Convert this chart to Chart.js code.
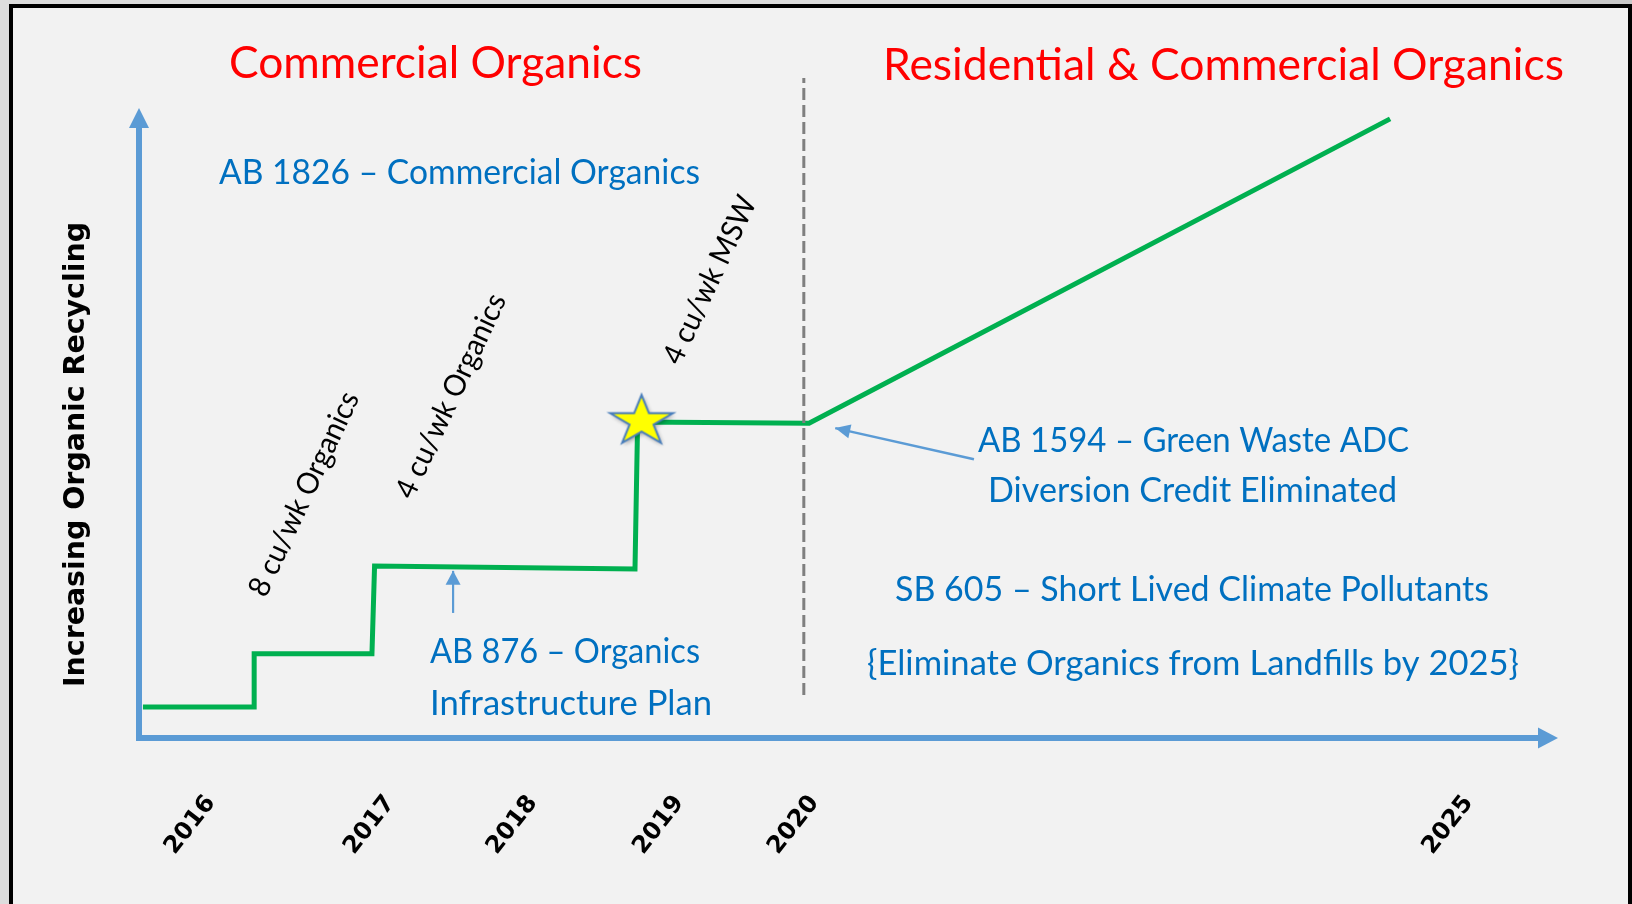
<!DOCTYPE html>
<html>
<head>
<meta charset="utf-8">
<script src="https://cdn.jsdelivr.net/npm/chart.js@4.4.1/dist/chart.umd.min.js"></script>
<style>
  html, body { margin: 0; padding: 0; }
  body { width: 1632px; height: 904px; overflow: hidden; position: relative; background: #dddddd; }
  #frame { position: absolute; left: 9px; top: 4px; width: 1623px; height: 910px; box-sizing: border-box;
           background: #f2f2f2; border-left: 4px solid #000; border-top: 4px solid #000; border-right: 4px solid #000; }
  #corner { position: absolute; left: 1550px; top: 0; width: 82px; height: 4px; background: #c9c9c9; }
  #c { position: absolute; left: 0; top: 0; }
</style>
</head>
<body>
<div id="frame"></div>
<div id="corner"></div>
<canvas id="c" width="1632" height="904"></canvas>
<script>
// ---------------- DATA ----------------
// x axis: schematic timeline in years; y axis: relative level of organic recycling (0-100)
const yearLabels = ['2016', '2017', '2018', '2019', '2020', '2025'];
const yearTickPositions = [2015.41, 2016.78, 2017.87, 2018.99, 2020.02, 2025.02];

// green "organics recycling requirement" step line
const stepX = [2014.89, 2015.74, 2015.74, 2016.64, 2016.66, 2018.65, 2018.67, 2019.98, 2024.42];
const stepY = [5.1, 5.1, 13.8, 13.8, 28.2, 27.7, 51.8, 51.6, 101.5];

// star milestone (4 cu/wk MSW)
const milestoneX = [2018.70];
const milestoneY = [51.9];

// dashed divider between the two eras
const dividerX = [2019.94, 2019.94];
const dividerY = [7.05, 108.2];

// annotation arrows (tail -> tip)
const ab876ArrowX = [2017.26, 2017.26];
const ab876ArrowY = [20.5, 27.4];
const ab1594ArrowX = [2021.24, 2020.18];
const ab1594ArrowY = [45.7, 50.8];

// texts
const yAxisTitle = 'Increasing Organic Recycling';
const headings = ['Commercial Organics', 'Residential & Commercial Organics'];
const billNotes = [
  'AB 1826 \u2013 Commercial Organics',
  'AB 876 \u2013 Organics',
  'Infrastructure Plan',
  'AB 1594 \u2013 Green Waste ADC',
  'Diversion Credit Eliminated',
  'SB 605 \u2013 Short Lived Climate Pollutants',
  '{Eliminate Organics from Landfills by 2025}'
];
const thresholdNotes = ['8 cu/wk Organics', '4 cu/wk Organics', '4 cu/wk MSW'];

// ---------------- LAYOUT / STYLE ----------------
const AXIS_BLUE = '#5b9bd5';
const TEXT_BLUE = '#0070c0';
const RED = '#ff0000';
const GREEN = '#00b050';
const NOTE_FONT = 'Lato, "Open Sans", "Noto Sans", sans-serif';
const BOLD_FONT = '"DejaVu Sans", Verdana, sans-serif';

const headingBoxes = [{x: 229, y: 78, w: 413}, {x: 883, y: 80, w: 681}];
const noteBoxes = [
  {x: 219, y: 184, w: 481},
  {x: 430, y: 663, w: 270},
  {x: 430, y: 715, w: 282},
  {x: 978, y: 452, w: 431},
  {x: 988, y: 502, w: 409},
  {x: 895, y: 601, w: 594},
  {x: 867, y: 675, w: 652}
];
const thresholdBoxes = [
  {cx: 304, cy: 494, w: 222},
  {cx: 451, cy: 396, w: 222},
  {cx: 710, cy: 280, w: 182}
];
const yTitleBox = {cx: 76.5, cy: 454.5, w: 465};

function pts(xs, ys) { return xs.map((x, i) => ({x: x, y: ys[i]})); }

function makeStar() {
  const c = document.createElement('canvas');
  c.width = 84; c.height = 68;
  const g = c.getContext('2d');
  const cx = 42, cy = 34, rx = 33, ry = 26.5, inner = 0.382;
  g.beginPath();
  for (let k = 0; k < 10; k++) {
    const a = (-90 + k * 36) * Math.PI / 180;
    const r = k % 2 === 0 ? 1 : inner;
    const px = cx + rx * r * Math.cos(a), py = cy + ry * r * Math.sin(a);
    if (k === 0) g.moveTo(px, py); else g.lineTo(px, py);
  }
  g.closePath();
  g.shadowColor = 'rgba(0,0,0,0.35)';
  g.shadowBlur = 4; g.shadowOffsetX = 1.5; g.shadowOffsetY = 2;
  g.fillStyle = '#ffff00';
  g.fill();
  g.shadowColor = 'transparent';
  g.lineWidth = 2;
  g.strokeStyle = '#4a7ebb';
  g.lineJoin = 'miter';
  g.stroke();
  return c;
}

function drawFitted(ctx, str, font, color, w, tx, ty, rot, align, baseline) {
  ctx.save();
  ctx.font = font;
  ctx.fillStyle = color;
  ctx.textAlign = align;
  ctx.textBaseline = baseline;
  const m = ctx.measureText(str).width;
  ctx.translate(tx, ty);
  if (rot) ctx.rotate(rot * Math.PI / 180);
  ctx.scale(w / m, 1);
  ctx.fillText(str, 0, 0);
  ctx.restore();
}

const arrowPlugin = {
  id: 'arrowPlugin',
  afterDatasetsDraw(chart) {
    const ctx = chart.ctx;
    chart.data.datasets.forEach((ds, i) => {
      if (!ds.arrowHead) return;
      const el = chart.getDatasetMeta(i).data;
      const tip = el[el.length - 1], tail = el[el.length - 2];
      const a = Math.atan2(tip.y - tail.y, tip.x - tail.x);
      const L = ds.arrowHead.length, W = ds.arrowHead.width / 2;
      const bx = tip.x - L * Math.cos(a), by = tip.y - L * Math.sin(a);
      ctx.save();
      ctx.fillStyle = ds.borderColor;
      ctx.beginPath();
      ctx.moveTo(tip.x, tip.y);
      ctx.lineTo(bx + W * Math.sin(a), by - W * Math.cos(a));
      ctx.lineTo(bx - W * Math.sin(a), by + W * Math.cos(a));
      ctx.closePath();
      ctx.fill();
      ctx.restore();
    });
    // axis arrowheads
    const {left, right, top, bottom} = chart.chartArea;
    ctx.save();
    ctx.fillStyle = AXIS_BLUE;
    ctx.beginPath();
    ctx.moveTo(left, top - 20); ctx.lineTo(left + 10, top); ctx.lineTo(left - 10, top);
    ctx.closePath(); ctx.fill();
    ctx.beginPath();
    ctx.moveTo(right + 20, bottom); ctx.lineTo(right, bottom - 10.5); ctx.lineTo(right, bottom + 10.5);
    ctx.closePath(); ctx.fill();
    ctx.restore();
  },
  afterDraw(chart) {
    const ctx = chart.ctx;
    headings.forEach((t, i) => {
      const b = headingBoxes[i];
      drawFitted(ctx, t, '45px ' + NOTE_FONT, RED, b.w, b.x, b.y, 0, 'left', 'alphabetic');
    });
    billNotes.forEach((t, i) => {
      const b = noteBoxes[i];
      drawFitted(ctx, t, '34px ' + NOTE_FONT, TEXT_BLUE, b.w, b.x, b.y, 0, 'left', 'alphabetic');
    });
    thresholdNotes.forEach((t, i) => {
      const b = thresholdBoxes[i];
      drawFitted(ctx, t, '30px ' + NOTE_FONT, '#000000', b.w, b.cx, b.cy, -65, 'center', 'middle');
    });
    drawFitted(ctx, yAxisTitle, 'bold 28px ' + BOLD_FONT, '#000000', yTitleBox.w, yTitleBox.cx, yTitleBox.cy, -90, 'center', 'middle');
  }
};

new Chart(document.getElementById('c'), {
  type: 'line',
  data: {
    datasets: [
      {
        label: 'Milestone', data: pts(milestoneX, milestoneY), showLine: false,
        pointStyle: makeStar(), pointRadius: 30, order: 0
      },
      {
        label: '2020 divider', data: pts(dividerX, dividerY), borderColor: '#7f7f7f',
        borderWidth: 3, borderDash: [12, 5], pointRadius: 0, clip: false, order: 1
      },
      {
        label: 'Organics requirement', data: pts(stepX, stepY), borderColor: GREEN,
        borderWidth: 5, pointRadius: 0, tension: 0, borderJoinStyle: 'miter',
        borderCapStyle: 'butt', clip: false, order: 2
      },
      {
        label: 'AB 876 arrow', data: pts(ab876ArrowX, ab876ArrowY), borderColor: AXIS_BLUE,
        borderWidth: 2.2, pointRadius: 0, clip: false, order: 3,
        arrowHead: {length: 14, width: 15}
      },
      {
        label: 'AB 1594 arrow', data: pts(ab1594ArrowX, ab1594ArrowY), borderColor: AXIS_BLUE,
        borderWidth: 2.5, pointRadius: 0, clip: false, order: 3,
        arrowHead: {length: 15, width: 14}
      }
    ]
  },
  options: {
    responsive: false,
    animation: false,
    events: [],
    layout: {padding: {top: 128, right: 94, bottom: 0, left: 0}},
    plugins: {legend: {display: false}, tooltip: {enabled: false}, title: {display: false}},
    scales: {
      x: {
        type: 'linear', min: 2014.86, max: 2025.55,
        afterBuildTicks: (s) => { s.ticks = yearTickPositions.map(v => ({value: v})); },
        afterFit: (s) => { s.height = 166; },
        grid: {display: false, drawTicks: true, tickLength: 52},
        border: {display: true, color: AXIS_BLUE, width: 6},
        ticks: {
          autoSkip: false, minRotation: 52, maxRotation: 52, padding: 0, color: '#000000',
          font: {family: BOLD_FONT, weight: 'bold', size: 24},
          callback: (v, i) => yearLabels[i]
        }
      },
      y: {
        type: 'linear', min: 0, max: 100,
        afterFit: (s) => { s.width = 139; },
        grid: {display: false},
        border: {display: true, color: AXIS_BLUE, width: 6},
        ticks: {display: false}
      }
    }
  },
  plugins: [arrowPlugin]
});
</script>
</body>
</html>
